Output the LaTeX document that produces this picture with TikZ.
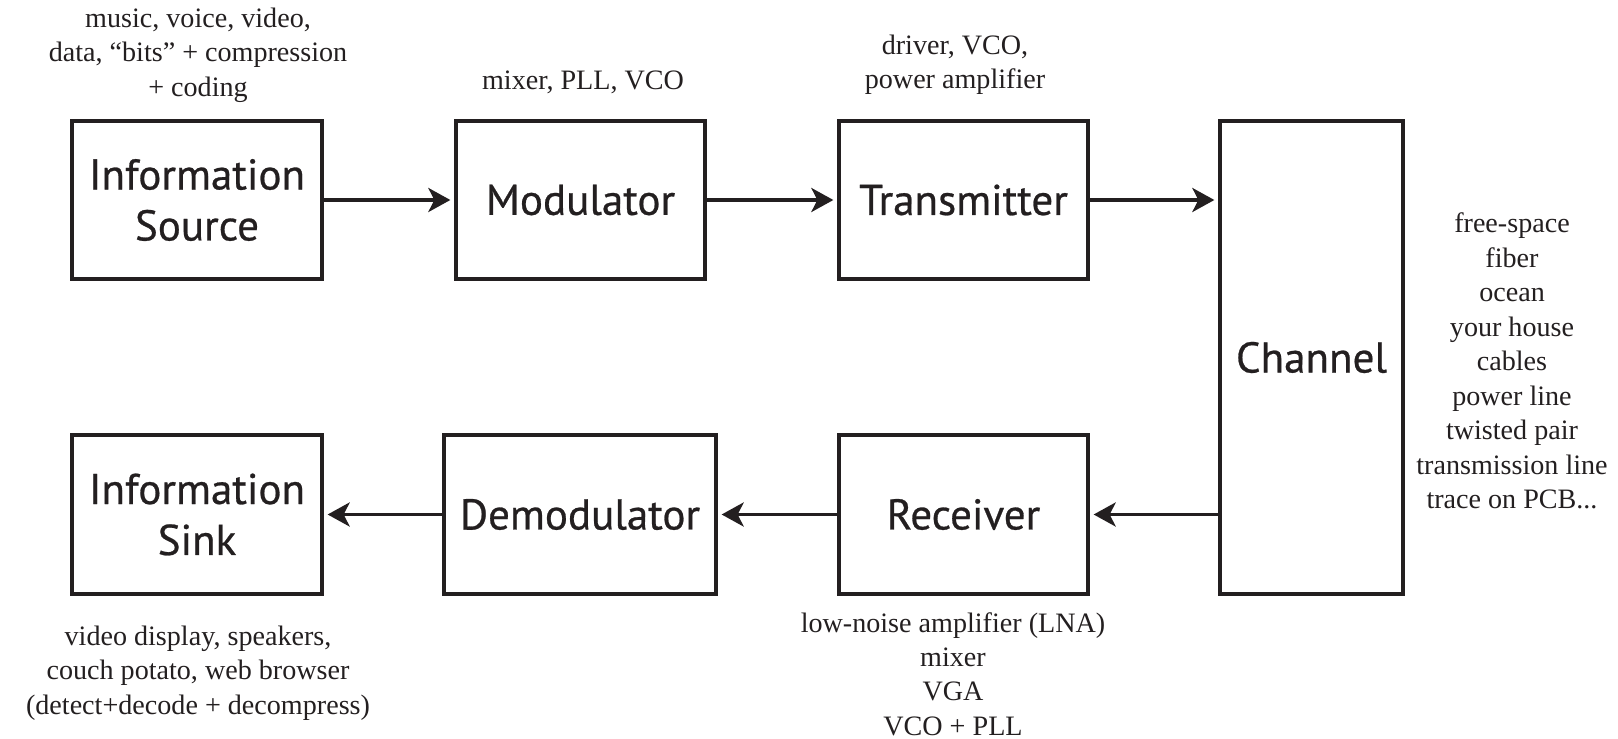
\documentclass[tikz,border=0pt]{standalone}
\usepackage{fontspec}
\setmainfont{Liberation Serif}
\newfontfamily\boxfont[FakeBold=0.6]{PT Sans}
\usetikzlibrary{arrows.meta}
\definecolor{ink}{RGB}{35,31,32}
\begin{document}
\begin{tikzpicture}[x=0.02cm,y=-0.02cm,
  blk/.style={draw=ink, line width=1.9pt, minimum height=3.16cm, inner sep=0pt,
    font=\boxfont\fontsize{24.5}{29}\selectfont, text=ink, align=center},
  note/.style={font=\fontsize{16}{19.6}\selectfont, text=ink, align=center, inner sep=0pt},
  conn/.style={draw=ink, line width=2.1pt,
    -{Stealth[length=0.44cm,width=0.48cm,inset=0.12cm]}, shorten >=0.08cm}]
\useasboundingbox (0,0) rectangle (1618,739);
% blocks
\node[blk, minimum width=5cm] (src) at (197,200) {Information\\Source};
\node[blk, minimum width=4.98cm] (mod) at (580.5,200) {Modulator};
\node[blk, minimum width=4.98cm] (tx) at (963.5,200) {Transmitter};
\node[blk, minimum width=3.66cm, minimum height=9.46cm] (ch) at (1311.5,357.5) {Channel};
\node[blk, minimum width=5cm, minimum height=3.18cm] (sink) at (197,514.5) {Information\\Sink};
\node[blk, minimum width=5.44cm, minimum height=3.18cm] (demod) at (580,514.5) {Demodulator};
\node[blk, minimum width=4.98cm, minimum height=3.18cm] (rx) at (963.5,514.5) {Receiver};
% connectors
\draw[conn] (src.east) -- (mod.west);
\draw[conn] (mod.east) -- (tx.west);
\draw[conn] (tx.east) -- (tx.east -| ch.west);
\draw[conn] (rx.east -| ch.west) -- (rx.east);
\draw[conn] (rx.west) -- (demod.east);
\draw[conn] (demod.west) -- (sink.east);
% notes
\node[note] (srcnote) at (198,55) {music, voice, video,\\data, “bits” + compression\\+ coding};
\node[note] (modnote) at (583,82) {mixer, PLL, VCO};
\node[note] (txnote) at (955,65) {driver, VCO,\\power amplifier};
\node[note] (chnote) at (1512,361) {free-space\\fiber\\ocean\\your house\\cables\\power line\\twisted pair\\transmission line\\trace on PCB...};
\node[note] (sinknote) at (198,673) {video display, speakers,\\couch potato, web browser\\(detect+decode + decompress)};
\node[note] (rxnote) at (953,674) {low-noise amplifier (LNA)\\mixer\\VGA\\VCO + PLL};
\end{tikzpicture}
\end{document}
